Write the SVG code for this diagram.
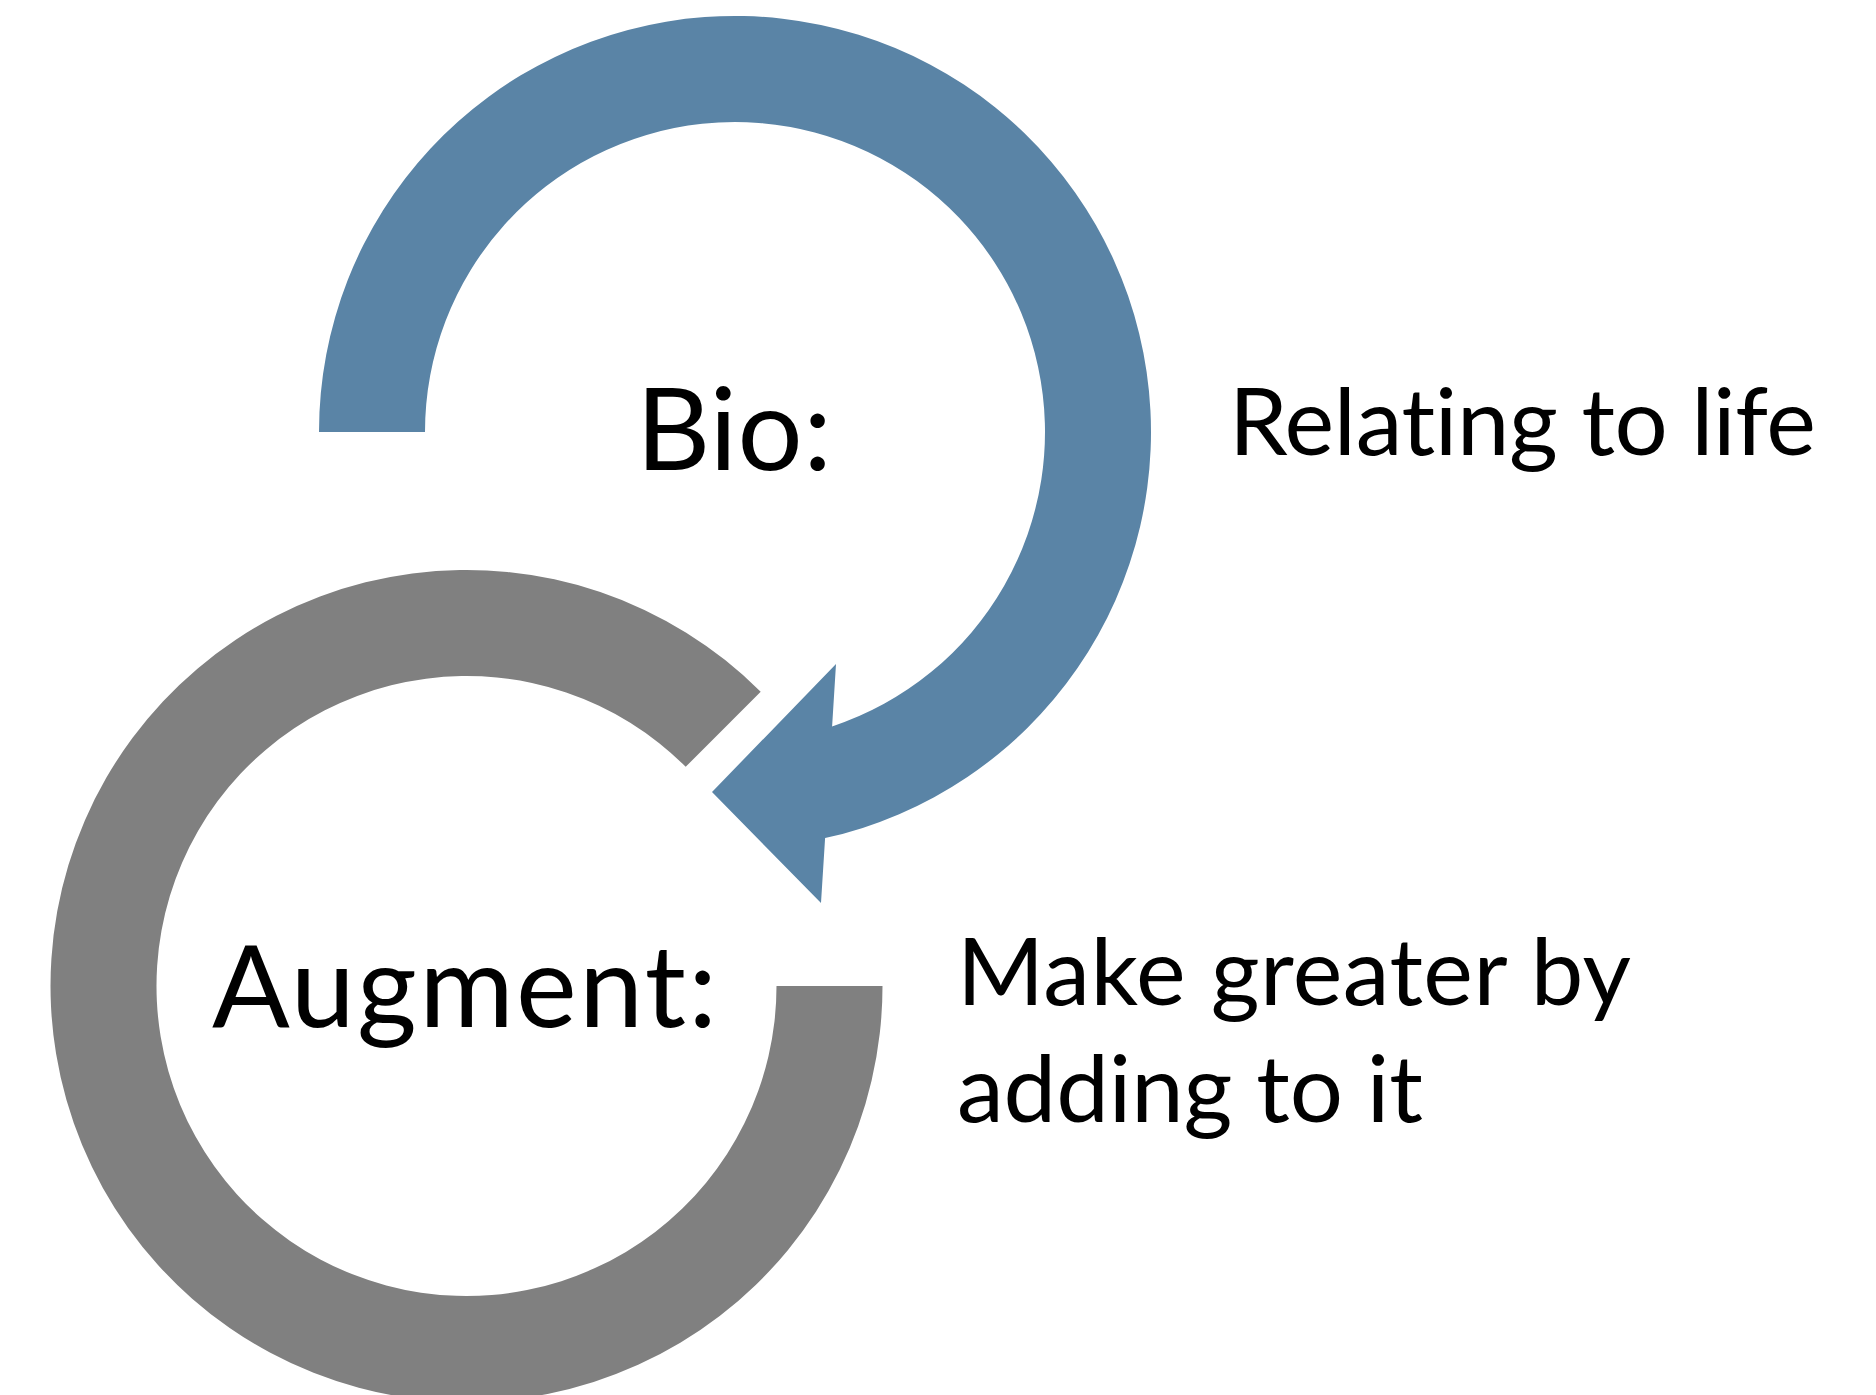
<svg xmlns="http://www.w3.org/2000/svg" width="1876" height="1395" viewBox="0 0 1876 1395">
  <style>
    .label { font-family: Lato, "Open Sans", "Liberation Sans", sans-serif; fill: #000000; font-variant-ligatures: none; }
    .title { font-size: 115px; }
    .desc { font-size: 94px; }
    .blue { fill: #5A84A6; }
    .gray { fill: #808080; }
  </style>
  <rect width="1876" height="1395" fill="#ffffff"/>

  <!-- Augment ring: open circle, gap between 315° and 0° -->
  <g id="node-augment">
    <path class="gray" d="M 882.5 986 A 416 416 0 1 1 760.7 691.8 L 685.7 766.8 A 310 310 0 1 0 776.5 986 Z"/>
    <text class="label title" x="212" y="1027" textLength="505" lengthAdjust="spacing">Augment:</text>
  </g>

  <!-- Bio ring: curved arrow turning clockwise toward the Augment ring -->
  <g id="node-bio">
    <path class="blue" d="M 319 432 A 416 416 0 1 1 825.1 838.1 L 821 903 L 712 792 L 836 664 L 832.1 726.4 A 310 310 0 1 0 425 432 Z"/>
    <text class="label title" x="636" y="470" textLength="196" lengthAdjust="spacing">Bio:</text>
  </g>

  <g id="connectors"></g>

  <g id="node-bio-def">
    <text class="label desc" x="1229" y="455" textLength="587" lengthAdjust="spacing">Relating to life</text>
  </g>
  <g id="node-augment-def">
    <text class="label desc" x="957" y="1005" textLength="674" lengthAdjust="spacing">Make greater by</text>
    <text class="label desc" x="957" y="1122" textLength="466" lengthAdjust="spacing">adding to it</text>
  </g>
</svg>
